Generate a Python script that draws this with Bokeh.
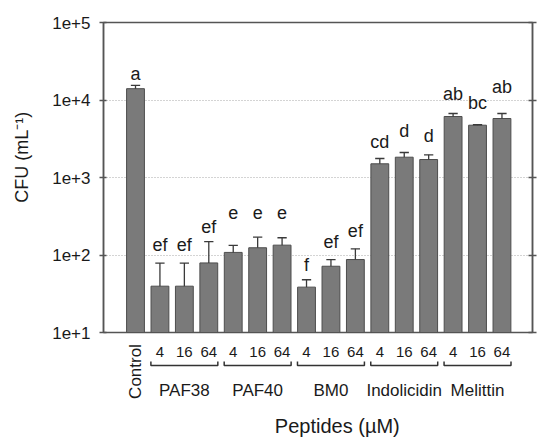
import math
from bokeh.plotting import figure
from bokeh.models import (Range1d, FixedTicker, LogAxis, CustomJSTickFormatter,
                          ColumnDataSource)
from bokeh.layouts import column, row
from bokeh.core.properties import value
from bokeh.embed import file_html
from bokeh.resources import INLINE

# ---------------- data ----------------
groups = ["PAF38", "PAF40", "BM0", "Indolicidin", "Melittin"]
doses = ["4", "16", "64"]
categories = ["Control"] + [f"{g} {d}" for g in groups for d in doses]
cfu_mean = [14000, 39.6, 39.6, 79, 108, 124, 134, 38.5, 71.6, 87.4,
            1503, 1828, 1706, 6125, 4730, 5770]
cfu_err = [1400, 39, 39, 70, 25, 46, 33, 9.4, 15.8, 32.6,
           255, 275, 254, 575, 60, 930]
letters = ["a", "ef", "ef", "ef", "e", "e", "e", "f", "ef", "ef",
           "cd", "d", "d", "ab", "bc", "ab"]
letter_y = [21780, 133, 133, 229, 356, 356, 356, 75.3, 146, 207,
            2851, 3954, 3412, 11780, 9204, 14620]
y_ticks = [10, 100, 1000, 10000, 100000]
grid_ticks = [100, 1000, 10000]
y_title = "CFU (mL\u207b\u00b9)"
x_title = "Peptides (\u00b5M)"

FONT = value("Liberation Sans")
TXT = "#1a1a1a"
LINE = "#555555"

xs = list(range(len(categories)))
upper = [m + e for m, e in zip(cfu_mean, cfu_err)]
src = ColumnDataSource(dict(x=xs, mean=cfu_mean, upper=upper,
                            cap0=[x - 0.19 for x in xs], cap1=[x + 0.19 for x in xs],
                            letter=letters, ly=letter_y))

x_range = Range1d(-1.31, 16.25)

# ---------------- y title strip ----------------
t = figure(width=35, height=437, x_range=Range1d(0, 35), y_range=Range1d(437, 0),
           x_axis_location=None, y_axis_location=None, output_backend="svg",
           toolbar_location=None, min_border=0, outline_line_color=None)
t.xgrid.visible = False
t.ygrid.visible = False
t.text(x=[21.7], y=[156.7], text=[y_title], angle=math.pi / 2,
       text_align="center", text_baseline="middle", text_font=FONT,
       text_font_size="18px", text_color=TXT)

# ---------------- main plot ----------------
p = figure(width=502, height=341, y_axis_type="log",
           x_range=x_range, y_range=Range1d(10, 100000),
           x_axis_location=None, output_backend="svg", toolbar_location=None,
           min_border_left=68, min_border_top=22, min_border_bottom=9,
           min_border_right=5)
p.outline_line_color = LINE
p.outline_line_width = 1.5

ya = p.yaxis[0]
ya.ticker = FixedTicker(ticks=y_ticks)
ya.formatter = CustomJSTickFormatter(code="return '1e+' + Math.round(Math.log10(tick));")
ya.major_label_text_font = "Liberation Sans"
ya.major_label_text_font_size = "17px"
ya.major_label_text_color = TXT
ya.major_label_standoff = 9
ya.major_tick_in = 3
ya.major_tick_out = 4
ya.major_tick_line_color = LINE
ya.major_tick_line_width = 1.5
ya.minor_tick_line_color = None
ya.axis_line_color = LINE
ya.axis_line_width = 1.5

ra = LogAxis(ticker=FixedTicker(ticks=y_ticks),
             formatter=CustomJSTickFormatter(code="return '';"),
             major_label_standoff=0, major_label_text_font_size="0px",
             major_tick_in=4, major_tick_out=4, major_tick_line_color=LINE,
             major_tick_line_width=1.5, minor_tick_line_color=None,
             axis_line_color=LINE, axis_line_width=1.5)
p.add_layout(ra, "right")

p.ygrid.ticker = FixedTicker(ticks=grid_ticks)
p.ygrid.grid_line_color = "#a8a8a8"
p.ygrid.grid_line_dash = "1 2"
p.ygrid.grid_line_width = 1.2
p.xgrid.visible = False

p.vbar(x="x", top="mean", bottom=10, width=0.73, source=src,
       fill_color="#7a7a7a", line_color="#4d4d4d", line_width=1)
p.segment(x0="x", y0="mean", x1="x", y1="upper", source=src,
          line_color="#3a3a3a", line_width=1.3)
p.segment(x0="cap0", y0="upper", x1="cap1", y1="upper", source=src,
          line_color="#3a3a3a", line_width=1.3)
p.text(x="x", y="ly", text="letter", source=src, text_align="center",
       text_baseline="alphabetic", text_font=FONT, text_font_size="18px",
       text_color=TXT)

# ---------------- category labels panel ----------------
q = figure(width=502, height=96, x_range=x_range,
           y_range=Range1d(96, 0), x_axis_location=None, y_axis_location=None,
           output_backend="svg", toolbar_location=None,
           min_border_left=68, min_border_right=5, min_border_top=0,
           min_border_bottom=0, outline_line_color=None)
q.xgrid.visible = False
q.ygrid.visible = False

dose_x = xs[1:]
dose_txt = [d for g in groups for d in doses]
q.text(x=dose_x, y=[10.7] * len(dose_x), text=dose_txt, text_align="center",
       text_baseline="middle", text_font=FONT, text_font_size="15px",
       text_color=TXT)
q.text(x=[0], y=[30], text=["Control"], angle=math.pi / 2, text_align="center",
       text_baseline="middle", text_font=FONT, text_font_size="17px",
       text_color=TXT)

br_xs, br_ys, gx = [], [], []
for i, g in enumerate(groups):
    a = 1 + 3 * i
    b = a + 2
    br_xs.append([a - 0.37, a - 0.37, b + 0.37, b + 0.37])
    br_ys.append([20, 24, 24, 20])
    gx.append(a + 1)
q.multi_line(xs=br_xs, ys=br_ys, line_color="#333333", line_width=1.5)
q.text(x=gx, y=[49] * len(gx), text=groups, text_align="center",
       text_baseline="middle", text_font=FONT, text_font_size="17px",
       text_color=TXT)
q.text(x=[8.26], y=[84], text=[x_title], text_align="center",
       text_baseline="middle", text_font=FONT, text_font_size="20px",
       text_color=TXT)

layout = row(t, column(p, q, spacing=0), spacing=0)
open("out.html", "w").write(file_html(layout, INLINE))
